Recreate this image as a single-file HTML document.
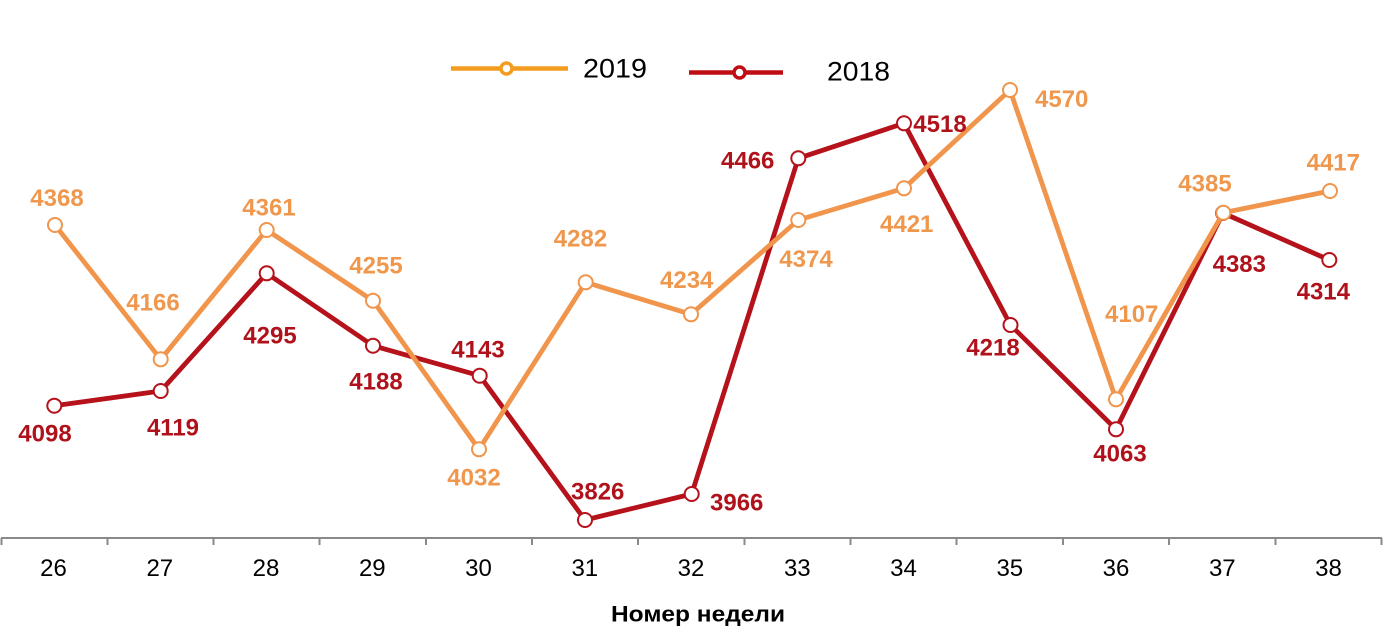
<!DOCTYPE html>
<html>
<head>
<meta charset="utf-8">
<style>
html,body{margin:0;padding:0;background:#fff;}
svg{display:block;}
</style>
</head>
<body>
<svg width="1394" height="644" viewBox="0 0 1394 644" xmlns="http://www.w3.org/2000/svg" font-family="'Liberation Sans', Arial, sans-serif">
  <!-- Legend -->
  <line x1="451" y1="68.5" x2="568" y2="68.5" stroke="#F39C1E" stroke-width="4.5"/>
  <circle cx="506.5" cy="68.5" r="5.5" fill="#fff" stroke="#F39C1E" stroke-width="3.5"/>
  <text x="583" y="77.5" font-size="27" fill="#000" textLength="64" lengthAdjust="spacingAndGlyphs">2019</text>
  <line x1="689" y1="72.5" x2="783" y2="72.5" stroke="#BE0E14" stroke-width="4.5"/>
  <circle cx="739.5" cy="72.5" r="5.5" fill="#fff" stroke="#BE0E14" stroke-width="3.5"/>
  <text x="827" y="80.5" font-size="27" fill="#000" textLength="63" lengthAdjust="spacingAndGlyphs">2018</text>

  <!-- Axis -->
  <line x1="1" y1="538" x2="1382" y2="538" stroke="#8a8a8a" stroke-width="2"/>
  <g stroke="#8a8a8a" stroke-width="2">
    <line x1="1.5" y1="538" x2="1.5" y2="545"/>
    <line x1="107.5" y1="538" x2="107.5" y2="545"/>
    <line x1="213.5" y1="538" x2="213.5" y2="545"/>
    <line x1="319.5" y1="538" x2="319.5" y2="545"/>
    <line x1="426" y1="538" x2="426" y2="545"/>
    <line x1="532" y1="538" x2="532" y2="545"/>
    <line x1="638" y1="538" x2="638" y2="545"/>
    <line x1="744.5" y1="538" x2="744.5" y2="545"/>
    <line x1="850.5" y1="538" x2="850.5" y2="545"/>
    <line x1="956.5" y1="538" x2="956.5" y2="545"/>
    <line x1="1063" y1="538" x2="1063" y2="545"/>
    <line x1="1169" y1="538" x2="1169" y2="545"/>
    <line x1="1275.5" y1="538" x2="1275.5" y2="545"/>
    <line x1="1381.5" y1="538" x2="1381.5" y2="545"/>
  </g>
  <g font-size="24" fill="#000" text-anchor="middle">
    <text x="53.5" y="576">26</text>
    <text x="159.8" y="576">27</text>
    <text x="266" y="576">28</text>
    <text x="372.3" y="576">29</text>
    <text x="478.5" y="576">30</text>
    <text x="584.8" y="576">31</text>
    <text x="691" y="576">32</text>
    <text x="797.3" y="576">33</text>
    <text x="903.5" y="576">34</text>
    <text x="1009.8" y="576">35</text>
    <text x="1116" y="576">36</text>
    <text x="1222.3" y="576">37</text>
    <text x="1328.5" y="576">38</text>
  </g>
  <text x="698" y="621.5" font-size="22" font-weight="bold" fill="#000" text-anchor="middle" textLength="174" lengthAdjust="spacingAndGlyphs">Номер недели</text>

  <!-- 2018 series -->
  <polyline fill="none" stroke="#B5121B" stroke-width="4.8" stroke-linejoin="round"
    points="54.3,405.7 160.7,391 266.7,273.3 373,345.7 479.7,375.7 585,520 691.7,494 798.3,158.3 904,123.3 1010.5,325 1116,429.3 1223,213 1329.3,260"/>
  <g fill="#fff" stroke="#B5121B" stroke-width="2">
    <circle cx="54.3" cy="405.7" r="7"/>
    <circle cx="160.7" cy="391" r="7"/>
    <circle cx="266.7" cy="273.3" r="7"/>
    <circle cx="373" cy="345.7" r="7"/>
    <circle cx="479.7" cy="375.7" r="7"/>
    <circle cx="585" cy="520" r="7"/>
    <circle cx="691.7" cy="494" r="7"/>
    <circle cx="798.3" cy="158.3" r="7"/>
    <circle cx="904" cy="123.3" r="7"/>
    <circle cx="1010.5" cy="325" r="7"/>
    <circle cx="1116" cy="429.3" r="7"/>
    <circle cx="1223" cy="213" r="7"/>
    <circle cx="1329.3" cy="260" r="7"/>
  </g>

  <!-- 2019 series -->
  <polyline fill="none" stroke="#F0954B" stroke-width="4.8" stroke-linejoin="round"
    points="55,225 160.7,359.3 266.7,230 373,300.7 479,449.3 585.7,282.3 691,314.3 798.3,220 904,188.3 1010,90 1116,399.3 1223.3,212.7 1330,191"/>
  <g fill="#fff" stroke="#F0954B" stroke-width="2">
    <circle cx="55" cy="225" r="7"/>
    <circle cx="160.7" cy="359.3" r="7"/>
    <circle cx="266.7" cy="230" r="7"/>
    <circle cx="373" cy="300.7" r="7"/>
    <circle cx="479" cy="449.3" r="7"/>
    <circle cx="585.7" cy="282.3" r="7"/>
    <circle cx="691" cy="314.3" r="7"/>
    <circle cx="798.3" cy="220" r="7"/>
    <circle cx="904" cy="188.3" r="7"/>
    <circle cx="1010" cy="90" r="7"/>
    <circle cx="1116" cy="399.3" r="7"/>
    <circle cx="1223.3" cy="212.7" r="7"/>
    <circle cx="1330" cy="191" r="7"/>
  </g>

  <!-- 2019 labels -->
  <g font-size="24" font-weight="bold" fill="#F0974E" text-anchor="middle">
    <text x="57" y="206">4368</text>
    <text x="153" y="310.4">4166</text>
    <text x="269" y="215.7">4361</text>
    <text x="376" y="273.7">4255</text>
    <text x="474" y="485.4">4032</text>
    <text x="580.5" y="246.7">4282</text>
    <text x="686.7" y="288">4234</text>
    <text x="806" y="267">4374</text>
    <text x="906.7" y="232">4421</text>
    <text x="1061.7" y="107">4570</text>
    <text x="1131.7" y="322">4107</text>
    <text x="1205" y="191.4">4385</text>
    <text x="1333.3" y="170.4">4417</text>
  </g>

  <!-- 2018 labels -->
  <g font-size="24" font-weight="bold" fill="#B0121B" text-anchor="middle">
    <text x="45" y="441.7">4098</text>
    <text x="173" y="435.4">4119</text>
    <text x="270" y="343.7">4295</text>
    <text x="376" y="389.4">4188</text>
    <text x="478" y="357.7">4143</text>
    <text x="597.7" y="499.4">3826</text>
    <text x="736.7" y="510.4">3966</text>
    <text x="747.7" y="168.7">4466</text>
    <text x="940" y="132">4518</text>
    <text x="993" y="355.7">4218</text>
    <text x="1120" y="461.4">4063</text>
    <text x="1239.3" y="272">4383</text>
    <text x="1323.3" y="299.4">4314</text>
  </g>
</svg>
</body>
</html>
